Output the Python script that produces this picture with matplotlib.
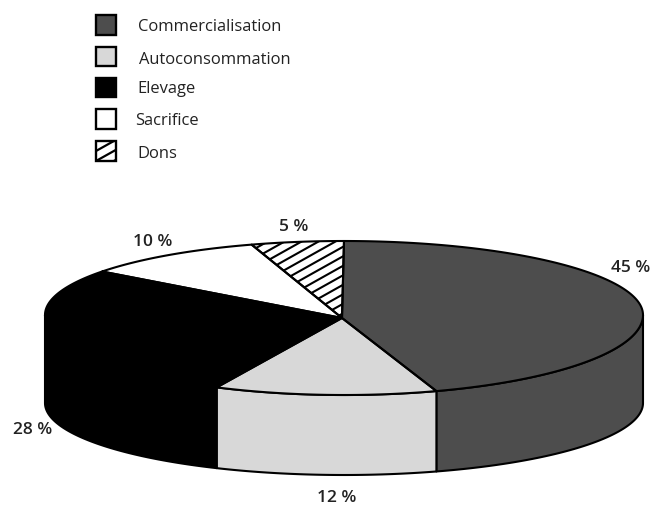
import numpy as np
import matplotlib
matplotlib.use("Agg")
import matplotlib.pyplot as plt
from matplotlib.collections import LineCollection
from matplotlib.patches import Polygon, Rectangle

plt.rcParams['font.family'] = ['Open Sans', 'DejaVu Sans']

# Destination of the production, in percent
categories = ["Commercialisation", "Autoconsommation", "Elevage", "Sacrifice", "Dons"]
shares = [45, 12, 28, 10, 5]
share_labels = ["45 %", "12 %", "28 %", "10 %", "5 %"]

face_colors = ["#4d4d4d", "#d8d8d8", "#000000", "#ffffff", "#ffffff"]
hatched = [False, False, False, False, True]

# Layout in pixels, y pointing down
WIDTH, HEIGHT = 653, 505
APEX = (342, 318)
CX, CY, RX = 344, 315, 299
RY_BACK, RY_FRONT = 74, 80        # perspective: the near half of the disc looks taller
BASE_CY, BASE_RY = 403, 72

fig = plt.figure(figsize=(WIDTH / 100, HEIGHT / 100), dpi=100)
ax = fig.add_axes([0, 0, 1, 1])
ax.set_xlim(0, WIDTH)
ax.set_ylim(HEIGHT, 0)
ax.axis("off")

# Clockwise angles measured from twelve o'clock
edges = np.concatenate([[0], np.cumsum(shares)]) / np.sum(shares) * 2 * np.pi


def top_rim(theta):
    c = -np.cos(theta)
    return CX + RX * np.sin(theta), CY + np.where(c > 0, RY_FRONT, RY_BACK) * c


def base_rim(theta):
    return CX + RX * np.sin(theta), BASE_CY - BASE_RY * np.cos(theta)


def add_hatch(patch, x0, x1, y0, y1, step, lw):
    """Clipped diagonal strokes rising to the right across a bounding box."""
    slope = 0.56
    span = (x1 - x0) * slope
    starts = np.arange(y0, y1 + span + step, step)
    segs = [[(x0, s), (x1, s - span)] for s in starts]
    lines = LineCollection(segs, colors="black", linewidths=lw, zorder=patch.get_zorder())
    ax.add_collection(lines)
    lines.set_clip_path(patch)


# Side wall of every slice on the visible half of the disc
for start, stop, color in zip(edges[:-1], edges[1:], face_colors):
    lo, hi = max(start, np.pi / 2), min(stop, 3 * np.pi / 2)
    if hi <= lo:
        continue
    theta = np.linspace(lo, hi, 120)
    top = np.column_stack(top_rim(theta))
    base = np.column_stack(base_rim(theta[::-1]))
    ax.add_patch(Polygon(np.vstack([top, base]), closed=True, facecolor=color,
                         edgecolor="black", linewidth=1.5, joinstyle="round", zorder=2))

# Top face
for start, stop, color, has_hatch in zip(edges[:-1], edges[1:], face_colors, hatched):
    theta = np.linspace(start, stop, 160)
    outline = np.vstack([[APEX], np.column_stack(top_rim(theta))])
    poly = Polygon(outline, closed=True, facecolor=color, edgecolor="none", zorder=3)
    ax.add_patch(poly)
    if has_hatch:
        add_hatch(poly, outline[:, 0].min(), outline[:, 0].max(),
                  outline[:, 1].min(), outline[:, 1].max(), 9.5, 1.5)
    ax.add_patch(Polygon(outline, closed=True, facecolor="none", edgecolor="black",
                         linewidth=1.5, joinstyle="round", zorder=3.5))

# Percentage labels around the disc
label_pos = [(631, 267.5), (337, 497.5), (33, 430), (153, 242), (294, 227)]
for text, (x, y) in zip(share_labels, label_pos):
    ax.text(x, y, text, ha="center", va="center", fontsize=12.5,
            fontweight="semibold", color="#222222", zorder=4)

# Hand-placed legend column
swatch_y = [24.5, 56, 87, 118.5, 150.5]
text_pos = [(138, 27), (139, 60), (137, 89), (135.5, 121), (137, 154)]
for name, color, has_hatch, sy, (tx, ty) in zip(categories, face_colors, hatched, swatch_y, text_pos):
    box = Rectangle((96, sy - 9.5), 19.5, 19.5, facecolor=color, edgecolor="none", zorder=3)
    ax.add_patch(box)
    if has_hatch:
        add_hatch(box, 96, 115.5, sy - 9.5, sy + 10, 10, 1.6)
    ax.add_patch(Rectangle((96, sy - 9.5), 19.5, 19.5, facecolor="none", edgecolor="black",
                           linewidth=1.7, zorder=3.5))
    ax.text(tx, ty, name, ha="left", va="center", fontsize=11.9, color="#222222")

fig.savefig("out.png", dpi=100, facecolor="white")
